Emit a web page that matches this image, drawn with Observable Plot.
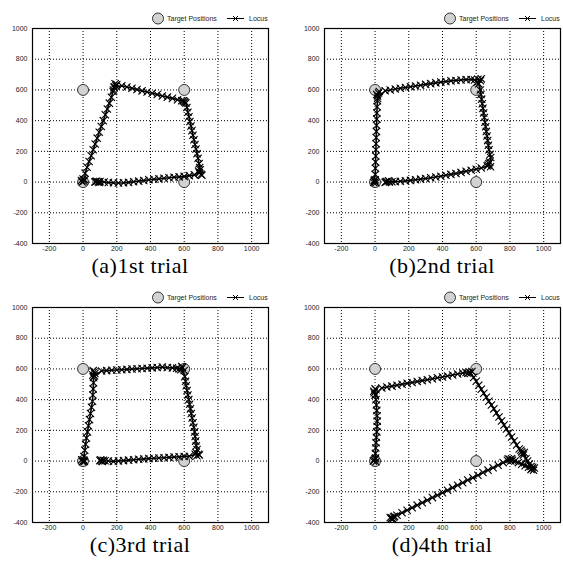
<!DOCTYPE html>
<html><head><meta charset="utf-8">
<script src="https://cdn.jsdelivr.net/npm/d3@7"></script>
<script src="https://cdn.jsdelivr.net/npm/@observablehq/plot@0.6"></script>
<style>
body{margin:0;background:#fff;width:563px;height:565px;position:relative;overflow:hidden}
.panel{position:absolute;width:276px;height:280px}
.panel svg{position:absolute;left:0;top:0}
.cap{position:absolute;width:236px;top:255px;height:22px;line-height:22px;text-align:center;font-family:"Liberation Serif","DejaVu Serif",serif;font-size:22px;letter-spacing:0.5px;color:#000;white-space:nowrap}
.legend{position:absolute;left:0;top:0}
</style>
</head><body>
<div id="root"></div>
<script>
// ---- data ----
const captions = ["(a)1st trial", "(b)2nd trial", "(c)3rd trial", "(d)4th trial"];
const legendLabels = ["Target Positions", "Locus"];
const xTicks = [-200, 0, 200, 400, 600, 800, 1000];
const yTicks = [-400, -200, 0, 200, 400, 600, 800, 1000];
const targetX = [0, 0, 600, 600];
const targetY = [0, 600, 600, 0];

const trial1 = [
  [-10,10],[0,20],[5,5],[-5,0],[10,15],
  [12,58],[24,96],[36,134],[48,172],[60,210],[72,248],[84,286],[96,324],[108,362],[120,400],[132,438],[144,476],[156,514],[168,552],[178,590],[185,615],
  [180,600],[190,640],[195,625],[200,635],[185,620],
  [230,627],[260,619],[290,611],[320,603],[350,594],[380,586],[410,578],[440,570],[470,561],[500,553],[530,545],[560,536],[585,530],
  [595,530],[605,520],[600,525],[610,515],
  [616,485],[622,455],[628,425],[634,395],[640,365],[646,335],[652,305],[658,275],[664,245],[670,215],[676,185],[682,155],[688,120],[692,95],
  [685,70],[700,50],[695,80],[705,45],[690,60],
  [660,47],[630,42],[600,37],[570,34],[540,31],[510,28],[480,25],[450,21],[420,18],[390,15],[360,10],[330,6],[300,2],[270,-2],[240,-5],[210,-6],[180,-5],[150,-3],[125,0],[100,3],
  [90,2],[80,5],[70,0],[75,3],[95,-2]
];
const trial2 = [
  [0,0],[-5,10],[5,-5],[0,15],[-8,-3],
  [1,50],[2,90],[3,130],[4,170],[5,210],[6,250],[7,290],[8,330],[9,370],[10,410],[11,450],[12,490],[14,530],
  [15,560],[20,580],[10,570],[25,590],[15,545],
  [60,595],[90,600],[120,606],[150,611],[180,616],[210,621],[240,626],[270,631],[300,636],[330,641],[360,646],[390,651],[420,655],[450,659],[480,662],[510,665],[540,667],[570,668],
  [590,665],[610,670],[625,660],[605,650],[630,672],[615,640],
  [624,600],[628,570],[632,540],[636,510],[640,480],[644,450],[648,420],[652,390],[656,360],[660,330],[664,300],[668,270],[672,240],[676,210],[682,180],[686,160],
  [680,130],[670,110],[685,100],[675,120],[665,105],
  [630,92],[600,84],[570,77],[540,70],[510,63],[480,56],[450,50],[420,44],[390,38],[360,33],[330,28],[300,23],[270,19],[240,15],[210,11],[180,8],[150,5],[120,3],[100,2],
  [85,0],[70,4],[60,-2],[80,8],[65,2]
];
const trial3 = [
  [0,0],[-8,8],[5,5],[-3,-5],[8,-2],
  [5,30],[10,70],[15,110],[20,150],[26,190],[32,230],[38,270],[44,310],[50,350],[56,390],[58,430],[60,470],[62,510],[62,545],
  [58,560],[65,580],[70,570],[60,590],[68,555],
  [110,587],[140,589],[170,591],[200,593],[230,595],[260,597],[290,599],[320,601],[350,603],[380,605],[410,607],[440,609],[470,612],[500,609],[530,607],[555,605],
  [570,600],[590,610],[580,595],[600,590],[585,615],
  [604,550],[608,520],[612,490],[617,460],[622,430],[627,400],[632,370],[637,340],[642,310],[647,280],[652,250],[657,220],[662,190],[665,160],[668,130],[672,100],[676,75],
  [670,55],[685,45],[675,35],[690,40],[665,45],
  [630,32],[600,30],[570,28],[540,26],[510,24],[480,22],[450,20],[420,18],[390,16],[360,14],[330,12],[300,9],[270,6],[240,3],[210,0],[180,-2],[150,0],[130,2],
  [120,5],[110,0],[100,3],[115,-3],[105,8]
];
const trial4 = [
  [-5,5],[0,15],[5,-5],[-10,0],[3,20],
  [2,50],[4,85],[6,120],[8,155],[10,190],[12,225],[13,260],[12,295],[10,330],[8,365],[5,400],[2,430],
  [-5,445],[0,470],[-8,455],[5,465],[0,430],
  [40,476],[70,482],[100,488],[130,494],[160,500],[190,506],[220,512],[250,518],[280,524],[310,530],[340,536],[370,542],[400,548],[430,554],[460,561],[490,567],[520,573],
  [540,577],[560,580],[550,572],[575,583],[565,570],
  [585,545],[600,520],[615,494],[630,468],[645,442],[660,416],[675,390],[690,365],[705,340],[720,313],[735,287],[750,261],[765,235],[780,209],[795,183],[810,157],[825,131],[840,105],[855,79],
  [865,70],[875,50],[870,60],[880,40],[885,55],
  [895,15],[905,0],[915,-20],[925,-35],
  [930,-50],[940,-60],[925,-55],[945,-45],[935,-40],
  [910,-40],[890,-30],[870,-20],[850,-10],[830,0],[815,5],
  [800,10],[790,15],[805,0],[785,5],[810,15],
  [760,-10],[730,-27],[700,-43],[670,-59],[640,-75],[610,-92],[580,-108],[550,-124],[520,-141],[490,-157],[460,-173],[430,-190],[400,-206],[370,-222],[340,-238],[310,-255],[280,-271],[250,-287],[220,-304],[190,-320],[160,-336],[130,-353],[115,-360],
  [100,-370],[95,-375],[110,-365],[90,-368],[105,-378]
];
const trials = [trial1, trial2, trial3, trial4];

// ---- layout ----
const panelPos = [[0,0],[292,0],[0,279],[292,279]];
const capLeft = [22, 32, 22, 32];
const targets = targetX.map((x,i)=>({x, y: targetY[i]}));
const root = document.getElementById("root");

trials.forEach((tr, i) => {
  const pts = tr.map(([x,y]) => ({x, y}));
  const div = document.createElement("div");
  div.className = "panel";
  div.style.left = panelPos[i][0] + "px";
  div.style.top = panelPos[i][1] + "px";
  const chart = Plot.plot({
    width: 276, height: 256,
    marginLeft: 32, marginRight: 8, marginTop: 28, marginBottom: 13,
    style: {fontFamily: "'Liberation Sans', Arial, sans-serif", fontSize: "7px", color: "#222", background: "transparent"},
    x: {domain: [-300, 1100], label: null},
    y: {domain: [-400, 1000], label: null},
    marks: [
      Plot.ruleX(xTicks, {stroke: "#000", strokeWidth: 1, strokeDasharray: "1,2"}),
      Plot.ruleY(yTicks.filter(v => v > -400 && v < 1000), {stroke: "#000", strokeWidth: 1, strokeDasharray: "1,2"}),
      Plot.axisX(xTicks, {tickSize: 0, tickPadding: 3, fill: "#222", tickFormat: d => String(d)}),
      Plot.axisY(yTicks, {tickSize: 0, tickPadding: 5, fill: "#222", tickFormat: d => String(d)}),
      Plot.dot(targets, {x: "x", y: "y", r: 5.5, fill: "#d2d2d2", stroke: "#333", strokeWidth: 1}),
      Plot.line(pts, {x: "x", y: "y", stroke: "#000", strokeWidth: 1.6}),
      Plot.dot(pts, {x: "x", y: "y", symbol: "times", r: 3.4, stroke: "#000", strokeWidth: 1.1}),
      Plot.frame({stroke: "#000", strokeWidth: 1.2})
    ]
  });
  div.appendChild(chart);

  // legend (above top-right of frame)
  const lg = d3.create("svg").attr("class", "legend").attr("width", 276).attr("height", 28)
    .style("font-family", "'Liberation Sans', Arial, sans-serif").style("font-size", "7px");
  const fr = 268; // frame right edge
  lg.append("circle").attr("cx", fr - 110).attr("cy", 18.5).attr("r", 5.5).attr("fill", "#d2d2d2").attr("stroke", "#333");
  lg.append("text").attr("x", fr - 101).attr("y", 21).attr("fill", "#222").text(legendLabels[0]);
  lg.append("line").attr("x1", fr - 41).attr("x2", fr - 24).attr("y1", 18.5).attr("y2", 18.5).attr("stroke", "#000");
  lg.append("path").attr("d", `M${fr-35},16 L${fr-30},21 M${fr-35},21 L${fr-30},16`).attr("stroke", "#000");
  lg.append("text").attr("x", fr - 19).attr("y", 21).attr("fill", "#222").text(legendLabels[1]);
  div.appendChild(lg.node());

  const cap = document.createElement("div");
  cap.className = "cap";
  cap.style.left = capLeft[i] + "px";
  cap.textContent = captions[i];
  div.appendChild(cap);
  root.appendChild(div);
});
</script>
</body></html>
